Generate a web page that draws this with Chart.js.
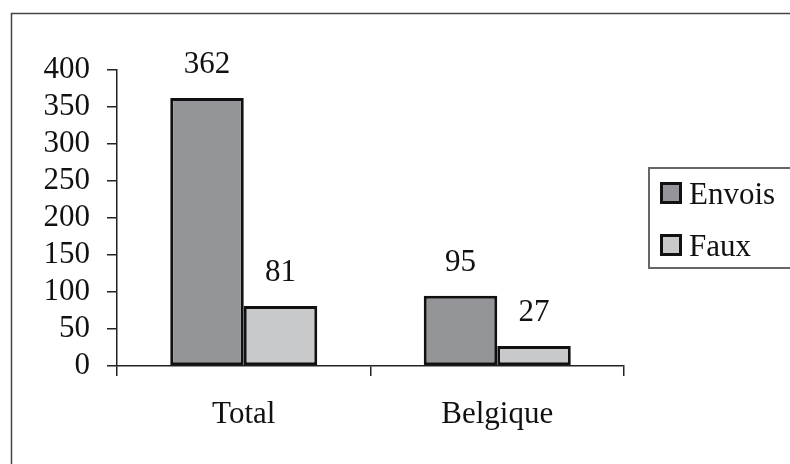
<!DOCTYPE html>
<html>
<head>
<meta charset="utf-8">
<script src="https://cdn.jsdelivr.net/npm/chart.js@4"></script>
<style>
  html, body { margin: 0; padding: 0; background: #fff; }
  #wrap { width: 790px; height: 464px; position: relative; }
</style>
</head>
<body>
<div id="wrap"><canvas id="chartEnvois" width="790" height="464"></canvas></div>
<script>
// --- datos ---
const categorias = ['Total', 'Belgique'];
const envois = [362, 95];
const faux = [81, 27];
const ticksY = [0, 50, 100, 150, 200, 250, 300, 350, 400];

const FUENTE = '"Liberation Serif", "Times New Roman", serif';
const TAM = 31;

// marco exterior, etiquetas y leyenda
const decoracion = {
  id: 'decoracion',
  beforeDraw(chart) {
    const ctx = chart.ctx;
    ctx.save();
    ctx.fillStyle = '#fff';
    ctx.fillRect(0, 0, chart.width, chart.height);
    ctx.strokeStyle = '#444';
    ctx.lineWidth = 1.5;
    ctx.strokeRect(11.5, 13.5, 900, 600);
    ctx.restore();
  },
  afterDraw(chart) {
    const ctx = chart.ctx;
    ctx.save();
    // valores encima de las barras
    ctx.font = TAM + 'px ' + FUENTE;
    ctx.fillStyle = '#111';
    ctx.textAlign = 'center';
    ctx.textBaseline = 'alphabetic';
    chart.data.datasets.forEach((ds, i) => {
      chart.getDatasetMeta(i).data.forEach((bar, j) => {
        ctx.fillText(String(ds.data[j]), bar.x, bar.y - 25);
      });
    });

    // leyenda
    ctx.strokeStyle = '#666';
    ctx.lineWidth = 2;
    ctx.strokeRect(649, 168, 200, 100);
    const items = chart.data.datasets;
    items.forEach((ds, i) => {
      const y = 182 + i * 52;
      ctx.fillStyle = ds.backgroundColor;
      ctx.fillRect(661, y + 1, 20, 20);
      ctx.strokeStyle = '#111';
      ctx.lineWidth = 3;
      ctx.strokeRect(661.5, y + 1.5, 19, 19);
      ctx.fillStyle = '#111';
      ctx.textAlign = 'left';
      ctx.textBaseline = 'alphabetic';
      ctx.fillText(ds.label, 689, y + 22);
    });
    ctx.restore();
  }
};

new Chart(document.getElementById('chartEnvois'), {
  type: 'bar',
  data: {
    labels: categorias,
    datasets: [
      {
        label: 'Envois',
        data: envois,
        backgroundColor: '#939598',
        borderColor: '#111',
        borderWidth: 3,
        borderSkipped: false,
        categoryPercentage: 0.58,
        barPercentage: 1
      },
      {
        label: 'Faux',
        data: faux,
        backgroundColor: '#c8c9cb',
        borderColor: '#111',
        borderWidth: 3,
        borderSkipped: false,
        categoryPercentage: 0.58,
        barPercentage: 1
      }
    ]
  },
  options: {
    responsive: false,
    animation: false,
    layout: { padding: { top: 70, right: 166, left: 0, bottom: 0 } },
    plugins: {
      legend: { display: false },
      tooltip: { enabled: false }
    },
    scales: {
      x: {
        grid: {
          offset: true,
          drawOnChartArea: false,
          tickLength: 10,
          color: '#222',
          lineWidth: 1.5
        },
        border: { color: '#222', width: 1.5 },
        ticks: { color: '#111', font: { family: FUENTE, size: TAM }, padding: 20 },
        afterFit(scale) { scale.height = 98; }
      },
      y: {
        min: 0,
        max: 400,
        afterBuildTicks(scale) { scale.ticks = ticksY.map(v => ({ value: v })); },
        grid: {
          drawOnChartArea: false,
          tickLength: 10,
          color: '#222',
          lineWidth: 1.5
        },
        border: { color: '#222', width: 1.5 },
        ticks: {
          color: '#111',
          font: { family: FUENTE, size: TAM, lineHeight: 1 },
          padding: 17,
          autoSkip: false
        },
        afterFit(scale) { scale.width = 117; }
      }
    }
  },
  plugins: [decoracion]
});
</script>
</body>
</html>
